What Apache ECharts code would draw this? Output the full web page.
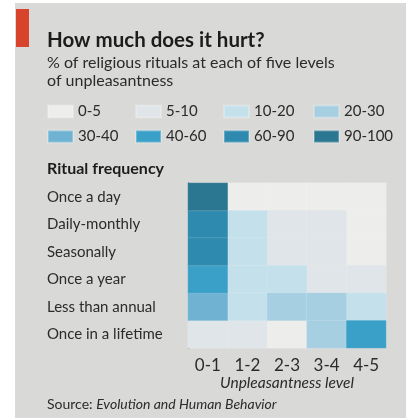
<!DOCTYPE html>
<html><head><meta charset="utf-8">
<script src="https://cdn.jsdelivr.net/npm/echarts@6/dist/echarts.min.js"></script>
<style>html,body{margin:0;padding:0;background:#fff}#c{width:406px;height:418px}</style>
</head><body><div id="c"></div>
<script>
// ---- data ----
const frequencies = ['Once a day', 'Daily-monthly', 'Seasonally', 'Once a year', 'Less than annual', 'Once in a lifetime'];
const levels = ['0-1', '1-2', '2-3', '3-4', '4-5'];
const binNames = ['0-5', '5-10', '10-20', '20-30', '30-40', '40-60', '60-90', '90-100'];
const binEdges = [0, 5, 10, 20, 30, 40, 60, 90, 100];
const binColors = ['#ededeb', '#dfe5e8', '#c4e0eb', '#a6cfe1', '#6fb2d2', '#3aa0c8', '#2e8aae', '#2b7691'];
const onceADay = [95, 2, 1, 1, 1];
const dailyMonthly = [72, 15, 6, 5, 2];
const seasonally = [70, 14, 7, 6, 3];
const onceAYear = [50, 18, 15, 9, 8];
const lessThanAnnual = [32, 14, 22, 21, 11];
const onceInALifetime = [8, 6, 4, 26, 56];
const rows = [onceADay, dailyMonthly, seasonally, onceAYear, lessThanAnnual, onceInALifetime];

// ---- build ----
const FONT = 'Lato';
const TXT = '#2b2b2b';
function binOf(v) {
  for (let i = 0; i < binNames.length; i++) {
    if (v >= binEdges[i] && v < binEdges[i + 1]) return i;
  }
  return binNames.length - 1;
}
const series = binNames.map((name, b) => ({
  type: 'heatmap',
  name: name,
  itemStyle: { color: binColors[b], borderColor: 'rgba(255,255,255,0.25)', borderWidth: 0.6 },
  emphasis: { disabled: true },
  data: []
}));
rows.forEach((row, r) => row.forEach((v, c) => series[binOf(v)].data.push([c, r, v])));

// one legend entry per bin, laid out in a 4-column grid
const legendCols = [47, 135, 223, 313];
const legendRows = [104, 129];
const legends = binNames.map((name, i) => ({
  left: legendCols[i % 4], top: legendRows[Math.floor(i / 4)],
  itemWidth: 25, itemHeight: 12, itemGap: 0, icon: 'rect', selectedMode: false, padding: 0,
  textStyle: { fontSize: 15, fontFamily: FONT, color: TXT },
  data: [name]
}));

const chart = echarts.init(document.getElementById('c'), null, { renderer: 'canvas' });
chart.setOption({
  animation: false,
  graphic: [
    { type: 'rect', shape: { x: 15, y: 3, width: 391, height: 415 }, style: { fill: '#d9d9d7' }, z: -10 },
    { type: 'rect', shape: { x: 16, y: 9, width: 13, height: 38 }, style: { fill: '#d8432b' }, z: -5 }
  ],
  title: [
    { text: 'How much does it hurt?', left: 47, top: 30, padding: 0,
      textStyle: { fontFamily: FONT, fontSize: 20.5, fontWeight: 'bold', color: '#1c1c1c' } },
    { text: '% of religious rituals at each of five levels\nof unpleasantness', left: 47, top: 54, padding: 0,
      textStyle: { fontFamily: FONT, fontSize: 16, fontWeight: 'normal', lineHeight: 18, color: TXT } },
    { text: 'Ritual frequency', left: 47, top: 161, padding: 0,
      textStyle: { fontFamily: FONT, fontSize: 16, fontWeight: 'bold', color: '#1c1c1c' } },
    { text: '{a|Source: }{b|Evolution and Human Behavior}', left: 47, top: 397, padding: 0,
      textStyle: { fontWeight: 'normal', rich: {
        a: { fontFamily: FONT, fontSize: 14, fontWeight: 'normal', color: TXT },
        b: { fontFamily: FONT, fontSize: 14, fontWeight: 'normal', fontStyle: 'italic', color: TXT } } } }
  ],
  legend: legends,
  grid: { left: 188, right: 20, top: 183, bottom: 70 },
  xAxis: {
    type: 'category', data: levels,
    axisLine: { show: false }, axisTick: { show: false }, splitLine: { show: false },
    axisLabel: { fontFamily: FONT, fontSize: 17, color: TXT, margin: 9 },
    name: 'Unpleasantness level', nameLocation: 'middle', nameGap: 26,
    nameTextStyle: { fontFamily: FONT, fontSize: 15.5, fontStyle: 'italic', color: TXT }
  },
  yAxis: {
    type: 'category', data: frequencies, inverse: true,
    axisLine: { show: true, lineStyle: { color: '#222', width: 1 } },
    axisTick: { show: false }, splitLine: { show: false },
    axisLabel: { fontFamily: FONT, fontSize: 15, color: TXT, align: 'left', margin: 141 }
  },
  series: series
});
</script></body></html>
